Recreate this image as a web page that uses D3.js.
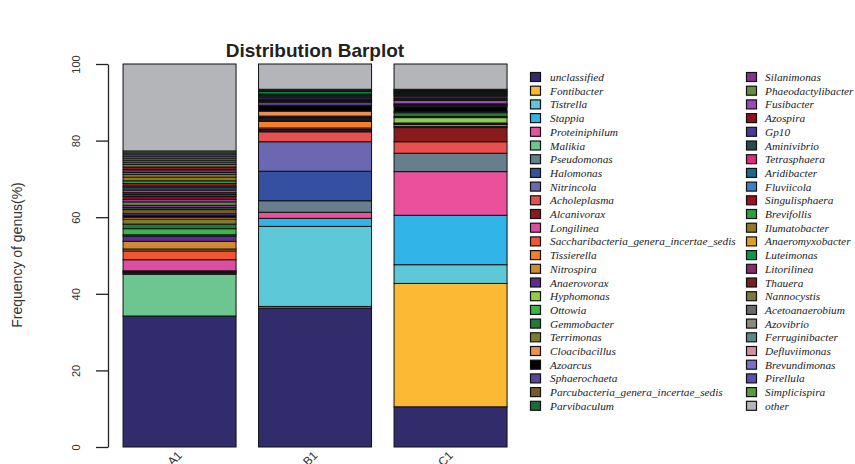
<!DOCTYPE html>
<html>
<head>
<meta charset="utf-8">
<script src="https://cdn.jsdelivr.net/npm/d3@7"></script>
<style>
  html, body { margin: 0; padding: 0; background: #fff; }
  svg { display: block; }
</style>
</head>
<body>
<svg id="chart" width="855" height="464"></svg>
<script>
// Samples along the x axis
const samples = ["A1", "B1", "C1"];

// Genera, in stacking order (bottom to top) and legend order
const genera = [
  "unclassified", "Fontibacter", "Tistrella", "Stappia", "Proteiniphilum",
  "Malikia", "Pseudomonas", "Halomonas", "Nitrincola", "Acholeplasma",
  "Alcanivorax", "Longilinea", "Saccharibacteria_genera_incertae_sedis", "Tissierella", "Nitrospira",
  "Anaerovorax", "Hyphomonas", "Ottowia", "Gemmobacter", "Terrimonas",
  "Cloacibacillus", "Azoarcus", "Sphaerochaeta", "Parcubacteria_genera_incertae_sedis", "Parvibaculum",
  "Silanimonas", "Phaeodactylibacter", "Fusibacter", "Azospira", "Gp10",
  "Aminivibrio", "Tetrasphaera", "Aridibacter", "Fluviicola", "Singulisphaera",
  "Brevifollis", "Ilumatobacter", "Anaeromyxobacter", "Luteimonas", "Litorilinea",
  "Thauera", "Nannocystis", "Acetoanaerobium", "Azovibrio", "Ferruginibacter",
  "Defluviimonas", "Brevundimonas", "Pirellula", "Simplicispira", "other"
];

// Fill colour of each genus
const generaColors = [
  "#332c6c", "#fbb934", "#5cc8d8", "#31b5e9", "#ea509b",
  "#6dc58f", "#677f8c", "#3550a0", "#6a68b0", "#ea4f4f",
  "#8a1a1c", "#dc4fa0", "#ee5731", "#f57e28", "#d08a31",
  "#5b2d91", "#93cc4a", "#3db54a", "#1f7a3c", "#7d7d2f",
  "#f0904e", "#000000", "#5945a0", "#7a5a2a", "#1a6a3a",
  "#8a3090", "#6a8a40", "#9a4ab8", "#901018", "#4a3a98",
  "#2a4a4a", "#e02a7a", "#1a6a8a", "#3a80c8", "#a01020",
  "#2aa040", "#8a7a2a", "#e0a020", "#0a9a4a", "#8a2a6a",
  "#7a2020", "#7a7a3a", "#6a6a6a", "#8a8a7a", "#5a8a8a",
  "#d890a0", "#7a70c8", "#5a50b0", "#5a9a3a", "#b4b5b8"
];

// Relative abundance (%) of each genus per sample, same order as genera
const valuesA1 = [
  34.2, 0, 0, 0, 0,
  10.9, 0.3, 0.2, 0, 0.2,
  0.2, 2.9, 2.3, 0.5, 2.0,
  1.4, 0.3, 1.6, 1.2, 1.3,
  0.5, 0.4, 0.5, 1.1, 0.5,
  0.6, 0.9, 0.6, 0.8, 0.5,
  0.5, 0.7, 0.6, 0.4, 0.7,
  0.7, 1.0, 0.6, 0.6, 0.7,
  0.7, 0.7, 0.6, 0.5, 0.5,
  0.4, 0.5, 0.5, 0.5, 22.7
];
const valuesB1 = [
  36.3, 0.4, 20.9, 2.1, 1.6,
  0, 3.0, 7.7, 7.7, 2.6,
  0.3, 0.3, 0.4, 1.7, 0.3,
  0.3, 0.2, 0.2, 0.2, 0.2,
  1.3, 1.5, 0.8, 0.2, 0.2,
  0.2, 0, 0.2, 0, 0.4,
  0.4, 0, 0.3, 0, 0,
  0.3, 0, 0, 0.6, 0,
  0, 0, 0, 0.2, 0,
  0, 0, 0.3, 0.1, 6.6
];
const valuesC1 = [
  10.5, 32.2, 4.9, 12.9, 11.4,
  0, 4.8, 0, 0, 3.0,
  3.7, 0, 0.3, 0.5, 0.2,
  0.2, 1.4, 0.3, 1.0, 0.3,
  0, 1.2, 0.3, 0, 0.3,
  0.2, 0, 0.9, 0.3, 0.3,
  0.5, 0.2, 0.3, 0, 0,
  0, 0, 0, 0.2, 0,
  0.3, 0, 0.2, 0.2, 0.2,
  0, 0, 0, 0.2, 6.6
];

// Y axis ticks
const yTicks = [0, 20, 40, 60, 80, 100];

const chartTitle = "Distribution Barplot";
const yTitle = "Frequency of genus(%)";

// ---- build the table for d3.stack ----
const sampleValues = [valuesA1, valuesB1, valuesC1];
const rows = samples.map((s, i) => {
  const row = { sample: s };
  genera.forEach((g, j) => { row[g] = sampleValues[i][j]; });
  return row;
});

const svg = d3.select("#chart");

const x = d3.scaleBand()
  .domain(samples)
  .range([109.5, 520.6])
  .paddingInner(0.166)
  .paddingOuter(0.1);

const y = d3.scaleLinear().domain([0, 100]).range([447, 64]);

const color = d3.scaleOrdinal().domain(genera).range(generaColors);

const stack = d3.stack().keys(genera);
const series = stack(rows);

// stacked bars
const layers = svg.append("g").attr("class", "bars")
  .selectAll("g")
  .data(series)
  .join("g")
  .attr("fill", d => color(d.key));

layers.selectAll("rect")
  .data(d => d.filter(p => p[1] - p[0] > 0))
  .join("rect")
  .attr("x", d => x(d.data.sample))
  .attr("width", x.bandwidth())
  .attr("y", d => y(d[1]))
  .attr("height", d => y(d[0]) - y(d[1]))
  .attr("stroke", "#111")
  .attr("stroke-width", 1);

// y axis
const yAxis = d3.axisLeft(y).tickValues(yTicks).tickSize(12).tickSizeOuter(0).tickFormat(d3.format("d"));
const yg = svg.append("g")
  .attr("transform", "translate(108,0)")
  .call(yAxis);
yg.select(".domain").attr("stroke", "#222").attr("stroke-width", 1.3);
yg.selectAll(".tick line").attr("stroke", "#222").attr("stroke-width", 1.3);
yg.selectAll(".tick text")
  .attr("font-family", "Liberation Sans, Arial, sans-serif")
  .attr("font-size", 11)
  .attr("fill", "#333")
  .attr("text-anchor", "middle")
  .attr("x", 0)
  .attr("dy", 0)
  .attr("transform", "translate(-32,0) rotate(-90)")
  .attr("dominant-baseline", "central");

// x labels, rotated
svg.append("g").selectAll("text")
  .data(samples)
  .join("text")
  .attr("transform", d => `translate(${x(d) + x.bandwidth() / 2 - 3},${450}) rotate(-45)`)
  .attr("text-anchor", "end")
  .attr("dominant-baseline", "hanging")
  .attr("font-family", "Liberation Sans, Arial, sans-serif")
  .attr("font-size", 12)
  .attr("fill", "#333")
  .text(d => d);

// title
svg.append("text")
  .attr("x", 315)
  .attr("y", 57)
  .attr("text-anchor", "middle")
  .attr("font-family", "Liberation Sans, Arial, sans-serif")
  .attr("font-weight", "bold")
  .attr("font-size", 19)
  .attr("fill", "#222")
  .text(chartTitle);

// y axis title
svg.append("text")
  .attr("transform", "translate(22,255) rotate(-90)")
  .attr("text-anchor", "middle")
  .attr("font-family", "Liberation Sans, Arial, sans-serif")
  .attr("font-size", 14)
  .attr("fill", "#333")
  .text(yTitle);

// legend, two columns
const perCol = 25;
const legendX = [530, 746];
const legendTextX = [20, 19];
const legendY0 = 77;
const legendStep = 13.7;
const legend = svg.append("g").selectAll("g")
  .data(genera)
  .join("g")
  .attr("transform", (d, i) => `translate(${legendX[Math.floor(i / perCol)]},${legendY0 + (i % perCol) * legendStep})`);

legend.append("rect")
  .attr("x", 0.5)
  .attr("y", -4.5)
  .attr("width", 10)
  .attr("height", 9)
  .attr("fill", d => color(d))
  .attr("stroke", "#111")
  .attr("stroke-width", 1.2);

legend.append("text")
  .attr("x", (d, i) => legendTextX[Math.floor(i / perCol)])
  .attr("y", 0)
  .attr("dominant-baseline", "central")
  .attr("font-family", "Liberation Serif, Times New Roman, serif")
  .attr("font-style", "italic")
  .attr("font-size", 11.3)
  .attr("fill", "#222")
  .text(d => d);
</script>
</body>
</html>
